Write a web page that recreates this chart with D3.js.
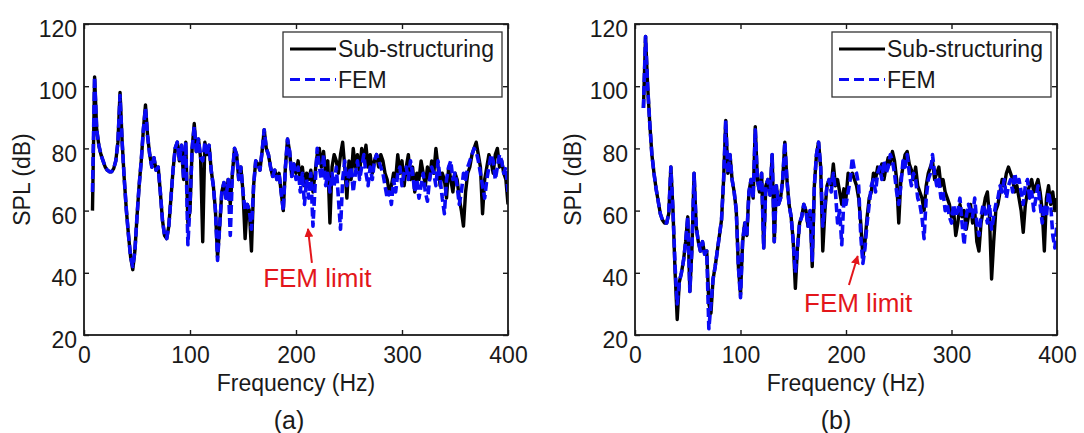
<!DOCTYPE html>
<html>
<head>
<meta charset="utf-8">
<script src="https://cdn.jsdelivr.net/npm/d3@7"></script>
<style>
  body { margin: 0; background: #fff; }
  svg { display: block; font-family: "Liberation Sans", Arial, sans-serif; }
</style>
</head>
<body>
<div id="chart"></div>
<script>
// frequency grid: 8 Hz .. 400 Hz, 2 Hz step
const freq = d3.range(8, 401, 2);

const xTicks = [0, 100, 200, 300, 400];
const yTicks = [20, 40, 60, 80, 100, 120];
const seriesNames = ["Sub-structuring", "FEM"];

// (a) SPL values
const subA = [
  60, 103, 86, 81, 78, 76, 74, 73, 72.5, 72.5,
  73.5, 76, 82, 98, 82, 70, 60, 52, 45, 41,
  47, 58, 68, 76, 86, 94, 84, 78, 74, 77,
  73, 74, 66, 57, 52, 51, 55, 64, 73, 80,
  82, 76, 81, 70, 82, 56, 60, 80, 88, 79,
  83, 77, 50, 82, 78, 81, 73, 68, 60, 45,
  55, 66, 69, 64, 70, 62, 72, 80, 78, 70,
  74, 66, 51, 62, 60, 47, 68, 76, 75, 73,
  79, 86, 80, 78, 74, 71, 73, 70, 72, 66,
  60, 74, 83, 79, 71, 75, 72, 76, 70, 74,
  68, 72, 70, 73, 66, 72, 78, 80, 74, 79,
  72, 76, 56, 74, 78, 76, 72, 78, 82, 74,
  64, 76, 70, 80, 74, 78, 72, 80, 76, 81,
  74, 78, 72, 76, 78, 74, 78, 76, 72, 70,
  66, 68, 72, 70, 78, 72, 76, 68, 74, 78,
  70, 74, 66, 72, 70, 76, 72, 68, 74, 70,
  76, 72, 80, 74, 68, 72, 70, 64, 74, 70,
  66, 72, 70, 64, 60, 55, 66, 72, 74, 78,
  80, 82, 78, 74, 59, 70, 74, 78, 76, 72,
  78, 80, 74, 76, 72, 70, 62
];
const femA = [
  66, 103, 86, 81, 78, 76, 74, 73, 72.5, 72.5,
  73.5, 76, 82, 97, 82, 70, 60, 52, 45, 42,
  47, 58, 68, 76, 86, 93, 84, 78, 74, 77,
  73, 74, 66, 57, 52, 51, 55, 64, 73, 80,
  82, 76, 81, 70, 82, 49, 62, 80, 87, 79,
  83, 77, 76, 82, 78, 81, 73, 68, 60, 44,
  55, 66, 69, 64, 70, 52, 72, 80, 78, 70,
  74, 66, 60, 62, 60, 54, 68, 76, 75, 73,
  79, 86, 80, 78, 74, 71, 73, 70, 72, 66,
  60, 74, 83, 79, 71, 75, 70, 74, 66, 72,
  62, 70, 64, 72, 55, 68, 80, 74, 70, 78,
  68, 72, 66, 72, 68, 74, 64, 54, 70, 76,
  68, 72, 74, 66, 72, 76, 70, 74, 78, 72,
  68, 74, 70, 76, 78, 76, 74, 72, 68, 64,
  66, 62, 70, 66, 72, 74, 68, 72, 74, 70,
  76, 72, 66, 70, 64, 68, 72, 66, 63, 70,
  74, 72, 68, 76, 70, 64, 59, 70, 74, 76,
  70, 72, 68, 62, 66, 72, 70, 74, 76, 78,
  80, 79, 76, 72, 68, 64, 70, 74, 78, 76,
  70, 74, 78, 76, 72, 74, 66
];

// (b) SPL values
const subB = [
  93, 116, 100, 88, 78, 72, 67, 63, 59, 57,
  56, 56, 59, 74, 60, 40, 25, 37, 40, 44,
  50, 58, 34, 48, 72, 55, 50, 47, 50, 46,
  47, 30, 27, 38, 42, 47, 52, 57, 70, 89,
  72, 78, 70, 66, 60, 42, 33, 50, 56, 52,
  66, 70, 64, 87, 70, 66, 72, 48, 68, 70,
  65, 78, 50, 68, 62, 64, 70, 82, 70, 62,
  58, 50, 35, 48, 56, 58, 62, 60, 55, 60,
  42, 68, 78, 82, 74, 47, 60, 68, 70, 68,
  75, 68, 70, 66, 62, 67, 64, 72, 71, 72,
  70, 68, 64, 56, 45, 50, 58, 64, 66, 72,
  70, 74, 72, 75, 70, 74, 77, 75, 79, 76,
  70, 56, 70, 74, 78, 79, 75, 73, 70, 74,
  68, 66, 64, 60, 68, 72, 74, 76, 70, 72,
  74, 68, 70, 66, 64, 62, 58, 60, 52, 56,
  62, 58, 60, 54, 58, 62, 56, 60, 50, 47,
  56, 60, 64, 66, 58, 38, 50, 60, 62, 66,
  70, 68, 72, 74, 72, 70, 66, 68, 64, 60,
  53, 62, 66, 68, 70, 66, 68, 70, 66, 60,
  47, 64, 68, 62, 66, 60, 64
];
const femB = [
  93, 116, 100, 88, 78, 72, 67, 63, 59, 57,
  56, 56, 59, 74, 60, 42, 30, 37, 40, 44,
  50, 58, 34, 48, 72, 55, 50, 47, 50, 46,
  47, 22, 30, 38, 42, 47, 52, 57, 70, 89,
  72, 78, 70, 66, 60, 42, 32, 50, 56, 52,
  66, 70, 64, 86, 70, 66, 72, 48, 68, 70,
  65, 78, 50, 68, 62, 64, 70, 82, 70, 62,
  58, 50, 40, 48, 56, 58, 62, 60, 55, 60,
  44, 68, 78, 82, 74, 55, 62, 68, 70, 66,
  72, 66, 56, 60, 49, 64, 62, 66, 70, 77,
  73, 72, 68, 52, 43, 48, 56, 62, 68, 70,
  66, 72, 74, 70, 76, 72, 74, 78, 76, 72,
  66, 62, 68, 76, 74, 78, 72, 68, 72, 70,
  64, 62, 58, 51, 64, 70, 72, 78, 72, 68,
  70, 64, 66, 60, 62, 58, 56, 62, 58, 60,
  64, 56, 49, 58, 62, 60, 58, 64, 56, 52,
  58, 62, 60, 56, 62, 54, 58, 62, 64, 68,
  66, 70, 64, 68, 70, 66, 72, 68, 70, 66,
  62, 68, 70, 64, 66, 60, 64, 68, 62, 56,
  62, 58, 66, 62, 52, 48, 56
];

// annotation "FEM limit": arrow tail, arrow tip, label anchor (Hz, dB)
const noteA = { tail: [215, 43.2], tip: [211.3, 54.1], label: [169, 35.4] };
const noteB = { tail: [202.8, 36.1], tip: [211.1, 45.4], label: [160.2, 27.4] };

const black = "#000000";
const blue = "#0a0af5";
const red = "#e3161b";
const ink = "#1a1a1a";

const W = 1084, H = 433;
const svg = d3.select("#chart").append("svg")
    .attr("width", W)
    .attr("height", H);

const defs = svg.append("defs");
defs.append("marker")
    .attr("id", "arrowhead")
    .attr("viewBox", "0 0 10 10")
    .attr("refX", 9)
    .attr("refY", 5)
    .attr("markerWidth", 4.5)
    .attr("markerHeight", 4.5)
    .attr("orient", "auto")
    .append("path")
    .attr("d", "M0,0 L10,5 L0,10 z")
    .attr("fill", red);

function drawPanel(id, box, sub, fem, note, tag, tagX, ylabX) {
    const x = d3.scaleLinear().domain([0, 400]).range([box.left, box.right]);
    const y = d3.scaleLinear().domain([20, 120]).range([box.bottom, box.top]);

    const g = svg.append("g");

    defs.append("clipPath").attr("id", "clip" + id)
        .append("rect")
        .attr("x", box.left).attr("y", box.top)
        .attr("width", box.right - box.left)
        .attr("height", box.bottom - box.top);

    const line = d3.line()
        .x((d, i) => x(freq[i]))
        .y(d => y(d));

    const plot = g.append("g").attr("clip-path", `url(#clip${id})`);

    plot.append("path")
        .datum(sub)
        .attr("d", line)
        .attr("fill", "none")
        .attr("stroke", black)
        .attr("stroke-width", 3.4)
        .attr("stroke-linejoin", "round");

    plot.append("path")
        .datum(fem)
        .attr("d", line)
        .attr("fill", "none")
        .attr("stroke", blue)
        .attr("stroke-width", 3.6)
        .attr("stroke-dasharray", "9,4")
        .attr("stroke-linejoin", "round");

    // axes (MATLAB style box, ticks inside)
    const tickLen = 5;
    const axB = g.append("g")
        .attr("transform", `translate(0,${box.bottom})`)
        .call(d3.axisBottom(x).tickValues(xTicks).tickSize(-tickLen).tickPadding(12));
    const axT = g.append("g")
        .attr("transform", `translate(0,${box.top})`)
        .call(d3.axisTop(x).tickValues(xTicks).tickSize(-tickLen).tickFormat(""));
    const axL = g.append("g")
        .attr("transform", `translate(${box.left},0)`)
        .call(d3.axisLeft(y).tickValues(yTicks).tickSize(-tickLen).tickPadding(7));
    const axR = g.append("g")
        .attr("transform", `translate(${box.right},0)`)
        .call(d3.axisRight(y).tickValues(yTicks).tickSize(-tickLen).tickFormat(""));

    [axB, axT, axL, axR].forEach(a => {
        a.select(".domain").remove();
        a.selectAll("line").attr("stroke", ink).attr("stroke-width", 1.4);
        a.selectAll("text")
            .attr("fill", ink)
            .style("font-size", "23px")
            .style("font-family", "Liberation Sans, Arial, sans-serif");
    });
    axL.selectAll("text").attr("dy", "0.55em");

    g.append("rect")
        .attr("x", box.left).attr("y", box.top)
        .attr("width", box.right - box.left)
        .attr("height", box.bottom - box.top)
        .attr("fill", "none")
        .attr("stroke", ink)
        .attr("stroke-width", 1.8);

    // labels
    g.append("text")
        .attr("x", (box.left + box.right) / 2)
        .attr("y", 391)
        .attr("text-anchor", "middle")
        .style("font-size", "23px")
        .attr("fill", ink)
        .text("Frequency (Hz)");

    g.append("text")
        .attr("transform", `translate(${ylabX},${(box.top + box.bottom) / 2}) rotate(-90)`)
        .attr("text-anchor", "middle")
        .style("font-size", "23px")
        .attr("fill", ink)
        .text("SPL (dB)");

    g.append("text")
        .attr("x", tagX)
        .attr("y", 429)
        .attr("text-anchor", "middle")
        .style("font-size", "25px")
        .attr("fill", ink)
        .text(tag);

    // FEM limit annotation
    g.append("line")
        .attr("x1", x(note.tail[0])).attr("y1", y(note.tail[1]))
        .attr("x2", x(note.tip[0])).attr("y2", y(note.tip[1]))
        .attr("stroke", red)
        .attr("stroke-width", 2)
        .attr("marker-end", "url(#arrowhead)");

    g.append("text")
        .attr("x", x(note.label[0]))
        .attr("y", y(note.label[1]))
        .style("font-size", "26px")
        .attr("fill", red)
        .text("FEM limit");

    // legend
    const lg = g.append("g")
        .attr("transform", `translate(${box.right - 225},${box.top + 8})`);
    lg.append("rect")
        .attr("width", 219)
        .attr("height", 65)
        .attr("fill", "#fff")
        .attr("stroke", "#333")
        .attr("stroke-width", 1.3);

    const styles = [
        { color: black, dash: null },
        { color: blue, dash: "10,5" }
    ];
    seriesNames.forEach((name, i) => {
        const row = lg.append("g").attr("transform", `translate(0,${17 + i * 30.5})`);
        row.append("line")
            .attr("x1", 7).attr("x2", 53)
            .attr("y1", 0).attr("y2", 0)
            .attr("stroke", styles[i].color)
            .attr("stroke-width", 3.2)
            .attr("stroke-dasharray", styles[i].dash);
        row.append("text")
            .attr("x", 55)
            .attr("y", 8)
            .style("font-size", "23px")
            .attr("fill", ink)
            .text(name);
    });
}

drawPanel("a", { left: 84, right: 508, top: 24, bottom: 335 }, subA, femA, noteA, "(a)", 289, 30);
drawPanel("b", { left: 635, right: 1057, top: 24, bottom: 335 }, subB, femB, noteB, "(b)", 836, 581);
</script>
</body>
</html>
